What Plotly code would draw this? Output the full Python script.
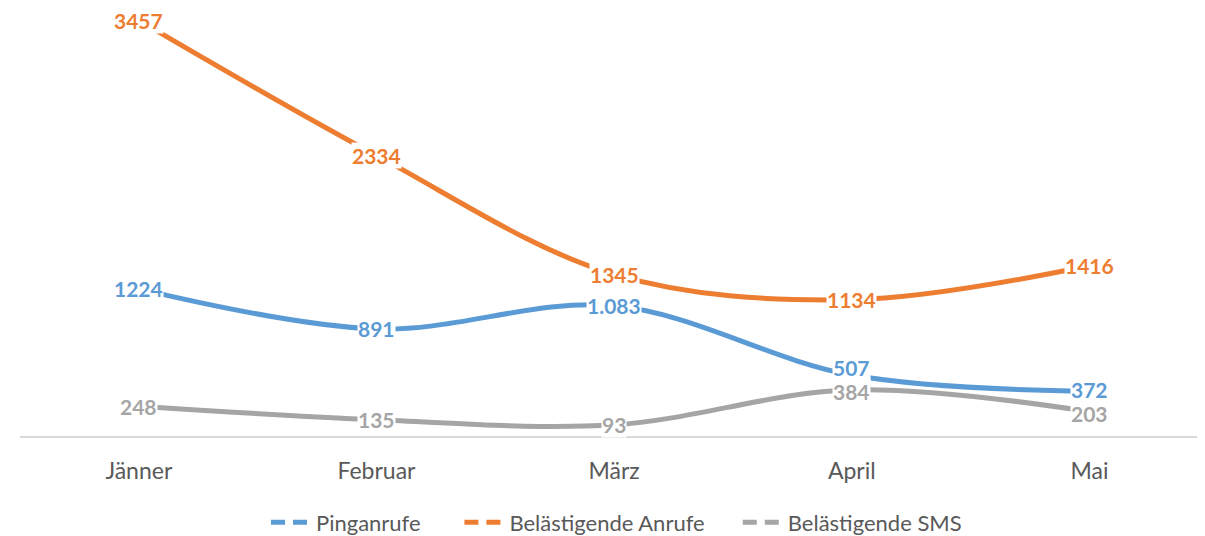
import plotly.graph_objects as go

months = ["Jänner", "Februar", "März", "April", "Mai"]
series_names = ["Pinganrufe", "Belästigende Anrufe", "Belästigende SMS"]
ping = [1224, 891, 1083, 507, 372]
anrufe = [3457, 2334, 1345, 1134, 1416]
sms = [248, 135, 93, 384, 203]
ping_labels = ["1224", "891", "1.083", "507", "372"]
anrufe_labels = ["3457", "2334", "1345", "1134", "1416"]
sms_labels = ["248", "135", "93", "384", "203"]
# small vertical nudges of data labels (pixels) to avoid collisions, as in the original
ping_label_shift = [0, 0, 0, 8, 2]
anrufe_label_shift = [0, 0, 0, 0, 0]
sms_label_shift = [0, 0, 0, -2, -2]

colors = ["#5B9BD5", "#ED7D31", "#A5A5A5"]
values = [ping, anrufe, sms]
labels = [ping_labels, anrufe_labels, sms_labels]
shifts = [ping_label_shift, anrufe_label_shift, sms_label_shift]
FONT = "Lato"
NB = "\u00a0"
legend_pad = [NB * 6, NB * 5, ""]

fig = go.Figure()
for name, vals, col in zip(series_names, values, colors):
    fig.add_trace(go.Scatter(x=months, y=vals, mode="lines", name=name,
                             line=dict(color=col, width=5, shape="spline", smoothing=1.0),
                             showlegend=False, hoverinfo="skip"))
# legend entries with dashed symbol
for name, col, pad in zip(series_names, colors, legend_pad):
    fig.add_trace(go.Scatter(x=[None], y=[None], mode="lines", name=name + pad,
                             line=dict(color=col, width=5, dash="14px,8px"),
                             showlegend=True))

annotations = []
for vals, labs, col, sh in zip(values, labels, colors, shifts):
    for m, v, t, s in zip(months, vals, labs, sh):
        annotations.append(dict(x=m, y=v, xref="x", yref="y", text=t, showarrow=False,
                                bgcolor="white", borderpad=0, yshift=s,
                                font=dict(family=FONT, size=21, color=col, weight="bold")))

fig.update_layout(
    width=1205, height=536,
    margin=dict(l=12, r=0, t=6, b=104),
    paper_bgcolor="white", plot_bgcolor="white",
    font=dict(family=FONT, color="#595959"),
    annotations=annotations,
    showlegend=True,
    legend=dict(orientation="h", x=0.5, xanchor="center", y=-0.205, yanchor="middle",
                font=dict(family=FONT, size=22, color="#595959"),
                itemwidth=40, tracegroupgap=0),
    xaxis=dict(range=[-0.5, 4.52], showgrid=False, zeroline=False, showline=True,
               linecolor="#D9D9D9", linewidth=1.5, ticks="", ticklabelstandoff=14,
               tickfont=dict(family=FONT, size=23, color="#595959"), fixedrange=True),
    yaxis=dict(range=[0, 3510], visible=False, showgrid=False, zeroline=False, fixedrange=True),
)

fig.write_html("out.html")
